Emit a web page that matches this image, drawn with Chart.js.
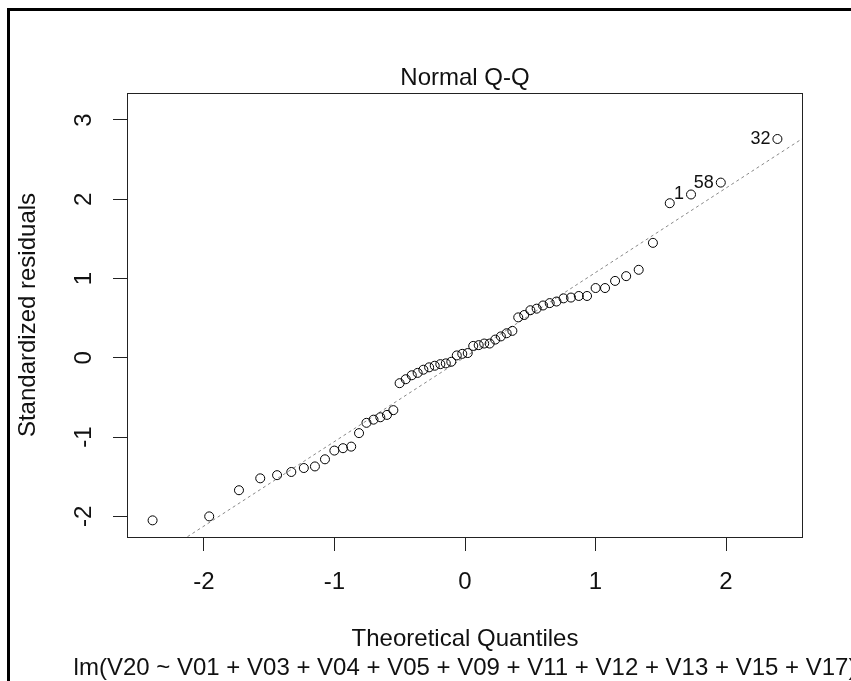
<!DOCTYPE html>
<html>
<head>
<meta charset="utf-8">
<title>Normal Q-Q</title>
<script src="https://cdn.jsdelivr.net/npm/chart.js@4.4.1/dist/chart.umd.min.js"></script>
<style>
  body { margin: 0; background: #fff; overflow: hidden; }
  #frame { position: absolute; left: 7px; top: 8px; width: 900px; height: 700px;
           border-left: 3px solid #000; border-top: 3px solid #000; }
  #canvas { position: absolute; left: 0; top: 0; }
</style>
</head>
<body>
<div id="frame"></div>
<canvas id="canvas" width="851" height="681"></canvas>
<script>
// theoretical normal quantiles (x) and sorted standardized residuals (y)
const theoreticalQuantiles = [-2.394, -1.960, -1.732, -1.569, -1.440, -1.331, -1.235, -1.150, -1.073, -1.001,
    -0.935, -0.872, -0.812, -0.755, -0.701, -0.649, -0.598, -0.549, -0.501, -0.454,
    -0.408, -0.363, -0.319, -0.275, -0.232, -0.189, -0.147, -0.105, -0.063, -0.021,
    0.021, 0.063, 0.105, 0.147, 0.189, 0.232, 0.275, 0.319, 0.363, 0.408,
    0.454, 0.501, 0.549, 0.598, 0.649, 0.701, 0.755, 0.812, 0.872, 0.935,
    1.001, 1.073, 1.150, 1.235, 1.331, 1.440, 1.569, 1.732, 1.960, 2.394];
const residuals = [-2.05, -2.00, -1.67, -1.52, -1.48, -1.44, -1.39, -1.37, -1.28, -1.17,
    -1.14, -1.12, -0.95, -0.82, -0.78, -0.75, -0.72, -0.66, -0.32, -0.27,
    -0.22, -0.19, -0.15, -0.12, -0.10, -0.08, -0.07, -0.05, 0.03, 0.05,
    0.06, 0.15, 0.16, 0.18, 0.18, 0.23, 0.27, 0.31, 0.34, 0.51,
    0.54, 0.60, 0.62, 0.66, 0.69, 0.71, 0.75, 0.76, 0.78, 0.78,
    0.88, 0.88, 0.97, 1.03, 1.11, 1.45, 1.95, 2.06, 2.21, 2.76];
// labelled observations (index into the sorted points) and their ids
const labelledIndex = [57, 58, 59];
const labelText = ['1', '58', '32'];
// qqline end points
const refLineX = [-2.59, 2.59];
const refLineY = [-2.75, 2.77];

const mainTitle = 'Normal Q-Q';
const xTitle = 'Theoretical Quantiles';
const yTitle = 'Standardized residuals';
const subCaption = 'lm(V20 ~ V01 + V03 + V04 + V05 + V09 + V11 + V12 + V13 + V15 + V17)';

const FONT = "'Liberation Sans', Arial, sans-serif";
const INK = '#111';

const points = theoreticalQuantiles.map((x, i) => ({x: x, y: residuals[i]}));
const refLine = refLineX.map((x, i) => ({x: x, y: refLineY[i]}));

const rPlot = {
    id: 'rPlot',
    afterDatasetsDraw(chart) {
        const ctx = chart.ctx;
        const a = chart.chartArea;
        ctx.save();
        // box round the plot region
        ctx.strokeStyle = '#222';
        ctx.lineWidth = 1;
        ctx.strokeRect(Math.round(a.left) + 0.5, Math.round(a.top) + 0.5,
            Math.round(a.right - a.left) - 1, Math.round(a.bottom - a.top));
        // id labels left of the extreme points
        const meta = chart.getDatasetMeta(0);
        ctx.font = '18px ' + FONT;
        ctx.fillStyle = INK;
        ctx.textAlign = 'right';
        ctx.textBaseline = 'middle';
        labelledIndex.forEach((idx, k) => {
            const p = meta.data[idx];
            ctx.fillText(labelText[k], p.x - 7, p.y);
        });
        // sub caption under the x title
        ctx.font = '24px ' + FONT;
        ctx.textAlign = 'center';
        ctx.fillText(subCaption, (a.left + a.right) / 2, chart.scales.x.bottom - 13);
        ctx.restore();
    }
};

const ctx = document.getElementById('canvas').getContext('2d');
new Chart(ctx, {
    type: 'scatter',
    data: {
        datasets: [{
            data: points,
            showLine: false,
            pointStyle: 'circle',
            pointRadius: 4.5,
            pointBorderWidth: 1,
            borderColor: '#000',
            backgroundColor: 'rgba(0,0,0,0)',
            order: 0
        }, {
            type: 'line',
            data: refLine,
            borderColor: '#888',
            borderWidth: 1,
            borderDash: [3, 3],
            pointRadius: 0,
            fill: false,
            order: 1
        }]
    },
    options: {
        responsive: false,
        animation: false,
        devicePixelRatio: 1,
        layout: { padding: { left: 0, right: 48, top: 0, bottom: 0 } },
        scales: {
            x: {
                type: 'linear',
                min: -2.59,
                max: 2.59,
                border: { display: false },
                grid: { drawOnChartArea: false, drawTicks: true, tickLength: 14, color: '#222' },
                ticks: { stepSize: 1, includeBounds: false, padding: 17, color: INK, font: { family: FONT, size: 24 } },
                title: { display: true, text: xTitle, color: INK, font: { family: FONT, size: 24 }, padding: { top: 0, bottom: 27 } },
                afterFit(scale) { scale.height = 144; }
            },
            y: {
                type: 'linear',
                min: -2.26,
                max: 3.34,
                border: { display: false },
                grid: { drawOnChartArea: false, drawTicks: true, tickLength: 14, color: '#222' },
                ticks: { stepSize: 1, includeBounds: false, padding: 18, minRotation: 90, maxRotation: 90,
                         crossAlign: 'center', color: INK, font: { family: FONT, size: 24 } },
                title: { display: true, text: yTitle, color: INK, font: { family: FONT, size: 24 }, padding: { top: 14, bottom: 0 } },
                afterFit(scale) { scale.width = 127; }
            }
        },
        plugins: {
            legend: { display: false },
            tooltip: { enabled: false },
            title: {
                display: true,
                text: mainTitle,
                fullSize: false,
                color: INK,
                font: { family: FONT, size: 24, weight: 'normal' },
                padding: { top: 63.6, bottom: 0.6 }
            }
        }
    },
    plugins: [rPlot]
});
</script>
</body>
</html>
